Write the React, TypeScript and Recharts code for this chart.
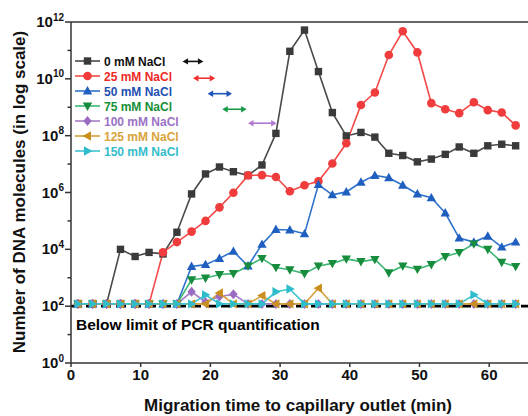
import React from "react";
import { LineChart, Line, XAxis, YAxis, ReferenceLine, Customized } from "recharts";

// Migration time (min)
const times = [1.0, 3.1, 5.1, 7.1, 9.2, 11.2, 13.2, 15.2, 17.3, 19.3, 21.3, 23.3, 25.4, 27.4, 29.4, 31.4,
  33.5, 35.5, 37.5, 39.5, 41.6, 43.6, 45.6, 47.6, 49.7, 51.7, 53.7, 55.7, 57.8, 59.8, 61.8, 63.8];

const nacl0 = [120, 120, 120, 1.0e4, 5.6e3, 7.8e3, 6.9e3, 4.0e4, 8.9e5, 4.5e6, 7.9e6, 5.4e6, 4.0e6, 9.3e6, 1.2e8, 9.3e10,
  5.2e11, 1.8e10, 6.5e8, 9.8e7, 1.3e8, 8.9e7, 2.4e7, 2.0e7, 1.2e7, 1.5e7, 2.2e7, 4.0e7, 2.4e7, 4.4e7, 5.0e7, 4.4e7];
const nacl25 = [120, 120, 120, 120, 120, 120, 7.8e3, 1.8e4, 4.2e4, 1.0e5, 3.0e5, 9.8e5, 4.0e6, 4.1e6, 3.5e6, 1.1e6,
  1.8e6, 2.5e6, 1.05e7, 5.4e7, 1.2e9, 3.3e9, 6.9e10, 4.7e11, 8.5e10, 1.4e9, 8.5e8, 6.2e8, 1.5e9, 7.9e8, 6.5e8, 2.3e8];
const nacl50 = [120, 120, 120, 120, 120, 120, 120, 120, 2.5e3, 2.9e3, 4.8e3, 8.5e3, 2.6e3, 1.5e4, 5.0e4, 4.8e4,
  3.5e4, 1.9e6, 8.3e5, 1.05e6, 2.3e6, 4.0e6, 3.3e6, 1.8e6, 8.9e5, 6.5e5, 1.9e5, 2.5e4, 1.8e4, 2.9e4, 1.2e4, 1.8e4];
const nacl75 = [120, 120, 120, 120, 120, 120, 120, 120, 850, 980, 1.3e3, 1.4e3, 2.6e3, 4.8e3, 2.3e3, 1.9e3,
  1.4e3, 2.6e3, 3.2e3, 4.6e3, 3.7e3, 4.4e3, 1.5e3, 2.6e3, 2.0e3, 2.9e3, 5.6e3, 7.8e3, 1.55e4, 1.0e4, 3.5e3, 2.5e3];
const nacl100 = [120, 120, 120, 120, 120, 120, 120, 120, 320, 140, 220, 260, 120, 120, 120, 120,
  120, 120, 120, 120, 120, 120, 120, 120, 120, 120, 120, 120, 120, 120, 120, 120];
const nacl125 = [120, 120, 120, 120, 120, 120, 120, 120, 120, 120, 290, 120, 120, 235, 120, 120,
  120, 430, 120, 120, 120, 120, 120, 120, 120, 120, 120, 120, 120, 120, 120, 120];
const nacl150 = [120, 120, 120, 120, 120, 120, 120, 120, 120, 250, 120, 120, 120, 120, 320, 400,
  120, 120, 120, 120, 120, 120, 120, 120, 120, 120, 120, 120, 250, 120, 120, 120];

const seriesNames = ["0 mM NaCl", "25 mM NaCl", "50 mM NaCl", "75 mM NaCl", "100 mM NaCl", "125 mM NaCl", "150 mM NaCl"];
const seriesKeys = ["s0", "s25", "s50", "s75", "s100", "s125", "s150"];
const seriesValues = [nacl0, nacl25, nacl50, nacl75, nacl100, nacl125, nacl150];
const lineColors = ["#4a4a4a", "#f24a48", "#2f72cc", "#3db673", "#a57cc9", "#d3a23a", "#3cc3cf"];
const markColors = ["#3a3a3a", "#f03c3c", "#1f5fc0", "#178c3c", "#9a6bc2", "#c99020", "#2fbccb"];
const textColors = ["#111111", "#ee2a26", "#1f4fb0", "#179038", "#9a72c6", "#d8a43a", "#33bcca"];
const markShapes = ["square", "circle", "up", "down", "diamond", "left", "right"];

// Arrows (migration time ranges)
const arrowStart = [16.0, 17.5, 19.6, 21.7, 25.4];
const arrowEnd = [19.0, 20.7, 23.1, 25.2, 29.5];
const arrowLevel = [4.1e10, 1.05e10, 3.0e9, 8.5e8, 2.75e8];
const arrowColors = ["#111111", "#f03030", "#1f55b8", "#1a9a48", "#b07ad0"];

const xTicks = [0, 10, 20, 30, 40, 50, 60];
const yTicks = [1, 1e1, 1e2, 1e3, 1e4, 1e5, 1e6, 1e7, 1e8, 1e9, 1e10, 1e11, 1e12];

const data = times.map((t, i) => {
  const row: Record<string, number> = { t };
  seriesKeys.forEach((k, j) => { row[k] = seriesValues[j][i]; });
  return row;
});

const FONT = "'Liberation Sans', Arial, sans-serif";

function Marker({ shape, cx, cy, color }: { shape: string; cx: number; cy: number; color: string }) {
  switch (shape) {
    case "square":
      return <rect x={cx - 3.7} y={cy - 3.7} width={7.4} height={7.4} fill={color} />;
    case "circle":
      return <circle cx={cx} cy={cy} r={4.3} fill={color} />;
    case "up":
      return <polygon points={`${cx},${cy - 4.9} ${cx - 4.7},${cy + 3.5} ${cx + 4.7},${cy + 3.5}`} fill={color} />;
    case "down":
      return <polygon points={`${cx},${cy + 4.9} ${cx - 4.7},${cy - 3.5} ${cx + 4.7},${cy - 3.5}`} fill={color} />;
    case "diamond":
      return <polygon points={`${cx},${cy - 5} ${cx + 4.2},${cy} ${cx},${cy + 5} ${cx - 4.2},${cy}`} fill={color} />;
    case "left":
      return <polygon points={`${cx - 4.9},${cy} ${cx + 3.5},${cy - 4.7} ${cx + 3.5},${cy + 4.7}`} fill={color} />;
    case "right":
      return <polygon points={`${cx + 4.9},${cy} ${cx - 3.5},${cy - 4.7} ${cx - 3.5},${cy + 4.7}`} fill={color} />;
    default:
      return <circle cx={cx} cy={cy} r={4} fill={color} />;
  }
}

const makeDot = (j: number) => (props: any) => {
  const { cx, cy, index } = props;
  if (cx == null || cy == null) return <g key={`d${j}-${index}`} />;
  return (
    <g key={`d${j}-${index}`}>
      <Marker shape={markShapes[j]} cx={cx} cy={cy} color={markColors[j]} />
    </g>
  );
};

const YTick = (props: any) => {
  const { x, y, payload } = props;
  const e = Math.round(Math.log10(payload.value));
  const major = e % 2 === 0;
  return (
    <g>
      <line x1={x - (major ? 6 : 3.5)} y1={y} x2={x} y2={y} stroke="#333" strokeWidth={1.5} />
      {major && (
        <text x={x - 7} y={y + 5} textAnchor="end" fontSize={15} fontWeight="bold" fill="#111" fontFamily={FONT}>
          10
          <tspan dy={-6.5} fontSize={10}>{e}</tspan>
        </text>
      )}
    </g>
  );
};

const arrowShape = (color: string) => (props: any) => {
  const { x1, y1, x2, y2 } = props;
  const h = 5.5;
  const w = 3.2;
  const a = Math.min(x1, x2);
  const b = Math.max(x1, x2);
  const y = (y1 + y2) / 2;
  return (
    <g>
      <line x1={a + 3} y1={y} x2={b - 3} y2={y} stroke={color} strokeWidth={1.6} />
      <polygon points={`${a},${y} ${a + h},${y - w} ${a + h},${y + w}`} fill={color} />
      <polygon points={`${b},${y} ${b - h},${y - w} ${b - h},${y + w}`} fill={color} />
    </g>
  );
};

const Decorations = () => (
  <g fontFamily={FONT}>
    {seriesNames.map((name, j) => {
      const y = 61 + j * 15;
      return (
        <g key={name}>
          <line x1={75} y1={y} x2={100} y2={y} stroke={lineColors[j]} strokeWidth={1.6} />
          <Marker shape={markShapes[j]} cx={87.5} cy={y} color={markColors[j]} />
          <text x={104} y={y + 4.5} fontSize={12} fontWeight="bold" fill={textColors[j]}>{name}</text>
        </g>
      );
    })}
    <text x={76} y={330} fontSize={15.5} fontWeight="bold" fill="#000">Below limit of PCR quantification</text>
    <text x={298} y={411} textAnchor="middle" fontSize={17} fontWeight="bold" fill="#111">
      Migration time to capillary outlet (min)
    </text>
    <text transform="translate(25,192) rotate(-90)" textAnchor="middle" fontSize={17} fontWeight="bold" fill="#111">
      Number of DNA molecules (in log scale)
    </text>
  </g>
);

export default function App() {
  return (
    <div style={{ position: "absolute", left: 0, top: 0, width: 528, height: 416, overflow: "hidden", background: "#fff" }}>
      <LineChart width={531} height={416} data={data} margin={{ top: 22, right: 0, bottom: 0, left: 0 }}>
        <XAxis
          dataKey="t"
          type="number"
          domain={[0, 66]}
          ticks={xTicks}
          allowDataOverflow
          height={53}
          tickSize={4}
          tickMargin={2}
          axisLine={{ stroke: "#333", strokeWidth: 1.5 }}
          tickLine={{ stroke: "#333", strokeWidth: 1.5 }}
          tick={{ fill: "#111", fontSize: 15, fontWeight: "bold", fontFamily: FONT }}
        />
        <YAxis
          type="number"
          scale="log"
          domain={[1, 1e12]}
          ticks={yTicks}
          allowDataOverflow
          interval={0}
          width={71}
          tickSize={0}
          tickMargin={0}
          tickLine={false}
          axisLine={{ stroke: "#333", strokeWidth: 1.5 }}
          tick={<YTick />}
        />
        <ReferenceLine y={1e12} stroke="#333" strokeWidth={1.5} />
        <ReferenceLine y={100} stroke="#000" strokeWidth={2.6} strokeDasharray="10 5" />
        {arrowStart.map((s, k) => (
          <ReferenceLine
            key={`arr${k}`}
            segment={[{ x: s, y: arrowLevel[k] }, { x: arrowEnd[k], y: arrowLevel[k] }]}
            stroke={arrowColors[k]}
            shape={arrowShape(arrowColors[k])}
          />
        ))}
        {seriesKeys.map((k, j) => (
          <Line
            key={k}
            dataKey={k}
            name={seriesNames[j]}
            type="linear"
            stroke={lineColors[j]}
            strokeWidth={1.6}
            dot={makeDot(j)}
            activeDot={false}
            isAnimationActive={false}
          />
        ))}
        <Customized component={Decorations} />
      </LineChart>
    </div>
  );
}
